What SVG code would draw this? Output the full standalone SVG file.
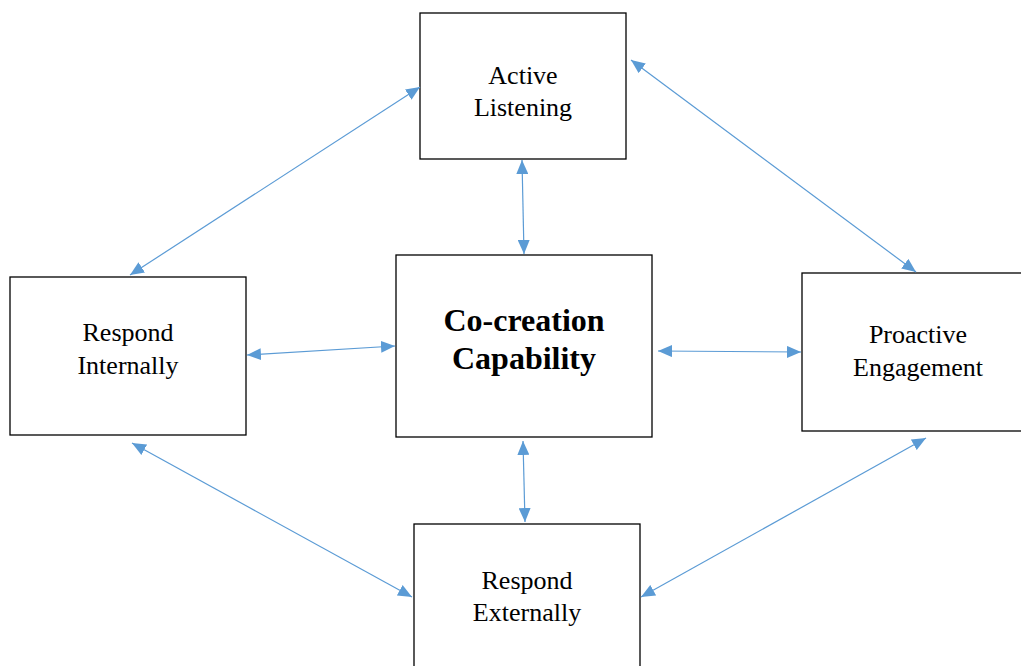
<svg xmlns="http://www.w3.org/2000/svg" width="1021" height="666" viewBox="0 0 1021 666">
<style>
.box{fill:#fff;stroke:#000;stroke-width:1.3}
.t{font-family:"Liberation Serif","Times New Roman",serif;font-size:26px;fill:#000;text-anchor:middle}
.b{font-family:"Liberation Serif","Times New Roman",serif;font-size:32px;font-weight:bold;fill:#000;text-anchor:middle}
.c{stroke:#5B9BD5;stroke-width:1.2;fill:none;marker-start:url(#ah);marker-end:url(#ah)}
</style>
<defs>
<marker id="ah" viewBox="0 0 14 12" refX="14" refY="6" markerWidth="14" markerHeight="12" markerUnits="userSpaceOnUse" orient="auto-start-reverse">
<path d="M0,0 L14,6 L0,12 Z" fill="#5B9BD5"/>
</marker>
</defs>
<rect width="1021" height="666" fill="#fff"/>
<g id="n-active"><rect class="box" x="420" y="13" width="206" height="146"/><text class="t" x="523" y="84">Active</text><text class="t" x="523" y="116">Listening</text></g>
<g id="n-cocreation"><rect class="box" x="396" y="255" width="256" height="182"/><text class="b" x="524" y="331">Co-creation</text><text class="b" x="524" y="369">Capability</text></g>
<g id="n-internal"><rect class="box" x="10" y="277" width="236" height="158"/><text class="t" x="128" y="341">Respond</text><text class="t" x="128" y="374">Internally</text></g>
<g id="n-proactive"><rect class="box" x="802" y="273" width="225" height="158"/><text class="t" x="918" y="343">Proactive</text><text class="t" x="918" y="376">Engagement</text></g>
<g id="n-external"><rect class="box" x="414" y="524" width="226" height="150"/><text class="t" x="527" y="589">Respond</text><text class="t" x="527" y="621">Externally</text></g>
<g id="connectors">
<line class="c" x1="420" y1="87" x2="130" y2="275"/>
<line class="c" x1="631" y1="60" x2="916" y2="272"/>
<line class="c" x1="522" y1="160" x2="524" y2="254"/>
<line class="c" x1="247" y1="355" x2="395" y2="346"/>
<line class="c" x1="658" y1="351" x2="801" y2="352"/>
<line class="c" x1="132" y1="443" x2="412" y2="597"/>
<line class="c" x1="523" y1="441" x2="525" y2="522"/>
<line class="c" x1="926" y1="438" x2="641" y2="597"/>
</g>
</svg>
